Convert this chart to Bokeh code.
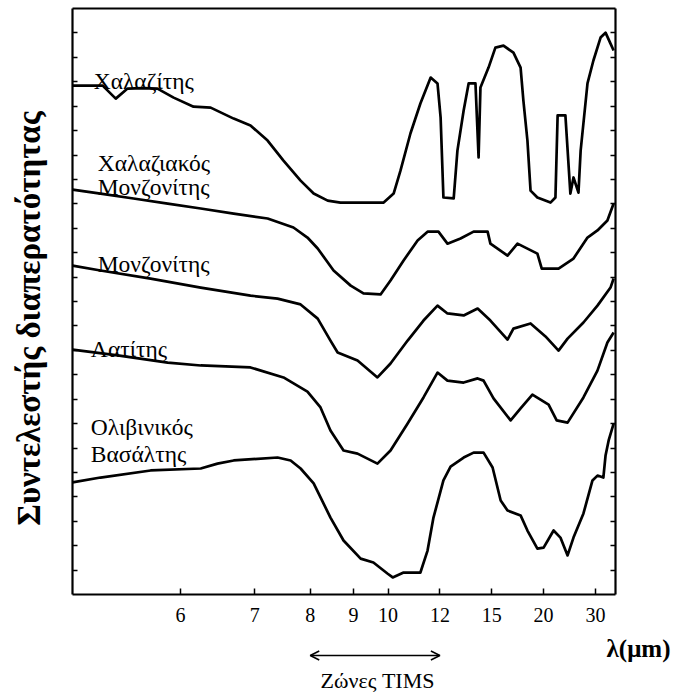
import math
from bokeh.plotting import figure
from bokeh.models import (Range1d, FixedTicker, LinearAxis, CustomJSTickFormatter, Arrow, OpenHead)
from bokeh.core.properties import value
from bokeh.embed import file_html
from bokeh.resources import INLINE

# ---------------- data (wavenumber in cm^-1, transmittance in arbitrary offset units) -------------
TICK_WAVELENGTHS_UM = [6, 7, 8, 9, 10, 12, 15, 20, 30]

quartzite_nu = [2014, 1917, 1875, 1837, 1786, 1741, 1689, 1625, 1570, 1496, 1442, 1387, 1336, 1281,
                1239, 1194, 1153, 1014, 982, 960, 928, 896, 863, 841, 831, 822, 789, 777, 757, 741,
                719, 709, 703, 677, 655, 629, 597, 574, 565, 552, 542, 520, 478, 462, 455, 430, 414,
                404, 388, 381, 359, 340, 317, 301, 285, 275]
quartzite_t = [20.84, 20.84, 20.31, 20.72, 20.74, 20.72, 20.35, 19.98, 19.94, 19.49, 19.21, 18.59,
               17.77, 16.95, 16.42, 16.13, 16.05, 16.05, 16.42, 17.36, 18.88, 20.11, 21.17, 20.93,
               19.53, 16.26, 16.22, 18.18, 19.82, 20.93, 20.93, 17.90, 20.76, 21.58, 22.40, 22.48,
               22.19, 21.58, 20.23, 18.59, 16.54, 16.26, 16.05, 16.26, 19.62, 19.62, 16.42, 17.08,
               16.46, 18.18, 20.93, 21.87, 22.81, 23.01, 22.56, 22.28]

qmonzonite_nu = [2014, 1924, 1818, 1708, 1602, 1496, 1387, 1304, 1259, 1226, 1175, 1120, 1079, 1024,
                 992, 950, 905, 873, 838, 809, 767, 725, 680, 671, 616, 584, 520, 506, 452, 404, 359,
                 327, 295, 275]
qmonzonite_t = [16.58, 16.42, 16.22, 16.01, 15.81, 15.60, 15.40, 15.03, 14.62, 14.17, 13.27, 12.65,
                12.33, 12.29, 12.86, 13.68, 14.50, 14.86, 14.86, 14.37, 14.58, 14.86, 14.86, 14.37,
                13.88, 14.37, 13.96, 13.35, 13.35, 13.76, 14.62, 14.91, 15.32, 16.01]

monzonite_nu = [2014, 1924, 1763, 1602, 1442, 1355, 1281, 1226, 1185, 1162, 1098, 1034, 992, 937, 886,
                841, 809, 757, 712, 671, 616, 597, 542, 494, 452, 423, 372, 327, 285, 275]
monzonite_t = [13.47, 13.27, 12.94, 12.57, 12.24, 12.12, 11.88, 11.30, 10.40, 9.91, 9.58, 8.89, 9.46,
               10.40, 11.22, 11.83, 11.51, 11.43, 11.71, 11.22, 10.44, 10.89, 11.10, 10.57, 9.99,
               10.48, 11.14, 11.83, 12.57, 12.94]

latite_nu = [2014, 1869, 1708, 1602, 1442, 1336, 1259, 1217, 1185, 1143, 1098, 1034, 992, 937, 886,
             841, 809, 757, 712, 693, 661, 606, 574, 536, 484, 458, 423, 372, 327, 295, 275]
latite_t = [10.03, 9.79, 9.50, 9.38, 9.30, 8.89, 8.31, 7.66, 6.72, 5.90, 5.77, 5.36, 5.90, 7.00, 8.07,
            9.09, 8.76, 8.68, 8.85, 8.76, 8.03, 7.13, 7.62, 8.19, 7.78, 7.13, 7.04, 8.07, 9.17, 10.32,
            10.73]

basalt_nu = [2014, 1924, 1763, 1602, 1548, 1496, 1355, 1313, 1281, 1239, 1185, 1143, 1088, 1047, 1002,
             985, 950, 896, 873, 854, 822, 799, 757, 725, 693, 664, 638, 616, 574, 552, 520, 500, 468,
             446, 423, 404, 372, 343, 327, 308, 301, 291, 275]
basalt_t = [4.59, 4.79, 5.08, 5.16, 5.36, 5.49, 5.61, 5.49, 5.16, 4.55, 3.15, 2.21, 1.47, 1.31, 0.86,
            0.70, 0.90, 0.90, 1.80, 3.15, 4.67, 5.24, 5.61, 5.81, 5.81, 5.20, 3.85, 3.44, 3.24, 2.62,
            1.88, 1.92, 2.62, 2.33, 1.60, 2.33, 3.32, 4.67, 4.87, 4.79, 5.69, 6.31, 7.00]

curve_labels = ["Χαλαζίτης", "Χαλαζιακός", "Μονζονίτης", "Μονζονίτης", "Λατίτης", "Ολιβινικός", "Βασάλτης"]
curve_label_nu = [1946, 1933, 1933, 1933, 1955, 1955, 1955]
curve_label_t = [21.05, 17.69, 16.67, 13.55, 10.07, 6.84, 5.77]

TIMS_BAND_UM = (8, 12)
Y_LABEL = "Συντελεστής διαπερατότητας"
X_LABEL = "λ(μm)"
TIMS_LABEL = "Ζώνες TIMS"

# ---------------- layout geometry (pixels) -------------
W, H = 676, 698
BOX_L, BOX_R, BOX_T, BOX_B = 72, 615, 8, 594        # plot box inside the canvas
NU_LEFT, NU_RIGHT = 2014, 269                       # box x extent (cm^-1, reversed)
T_MIN, T_MAX = 0, 24                                # box y extent
NU_PER_PX = (NU_LEFT - NU_RIGHT) / (BOX_R - BOX_L)
T_PER_PX = (T_MAX - T_MIN) / (BOX_B - BOX_T)


def sx(px):
    return NU_LEFT - (px - BOX_L) * NU_PER_PX


def sy(py):
    return T_MIN + (BOX_B - py) * T_PER_PX


SERIF = "Liberation Serif"

p = figure(width=W, height=H, output_backend="svg", toolbar_location=None,
           x_range=Range1d(sx(0), sx(W)), y_range=Range1d(sy(H), sy(0)),
           min_border=0, background_fill_color="white", border_fill_color="white")
p.title.visible = False
p.xgrid.visible = False
p.ygrid.visible = False
p.outline_line_color = None

# bottom axis (wavelength labels on a wavenumber-linear scale)
xa = p.xaxis[0]
xa.fixed_location = T_MIN
xa.bounds = (NU_RIGHT, NU_LEFT)
xa.ticker = FixedTicker(ticks=[10000.0 / l for l in TICK_WAVELENGTHS_UM])
xa.formatter = CustomJSTickFormatter(code="return String(Math.round(10000/tick));")
xa.major_tick_in = 6
xa.major_tick_out = 0
xa.minor_tick_line_color = None
xa.axis_line_width = 2.2
xa.major_tick_line_width = 1.5
xa.major_label_text_font = SERIF
xa.major_label_text_font_size = "20px"
xa.major_label_text_color = "black"
xa.major_label_standoff = 13

# top border
top = LinearAxis(fixed_location=T_MAX, bounds=(NU_RIGHT, NU_LEFT), ticker=FixedTicker(ticks=[]),
                 axis_line_width=2.2, minor_tick_line_color=None, major_tick_line_color=None,
                 major_label_text_font_size="1px")
p.add_layout(top, "above")

# left and right axes: inward ticks only
ya = p.yaxis[0]
right = LinearAxis()
p.add_layout(right, "right")
ya.fixed_location = NU_LEFT
right.fixed_location = NU_RIGHT
for ax in (ya, right):
    ax.bounds = (T_MIN, T_MAX)
    ax.ticker = FixedTicker(ticks=list(range(T_MIN + 1, T_MAX)))
    ax.formatter = CustomJSTickFormatter(code="return '';")
    ax.major_tick_in = 5
    ax.major_tick_out = 0
    ax.minor_tick_line_color = None
    ax.axis_line_width = 2.2
    ax.major_tick_line_width = 1.5
    ax.major_label_text_font_size = "1px"
    ax.major_label_standoff = 0

# curves
for nu, t in [(quartzite_nu, quartzite_t), (qmonzonite_nu, qmonzonite_t), (monzonite_nu, monzonite_t),
              (latite_nu, latite_t), (basalt_nu, basalt_t)]:
    p.line(nu, t, line_color="black", line_width=2.7, line_join="round")

# curve labels
p.text(x=curve_label_nu, y=curve_label_t, text=curve_labels, text_font=value(SERIF),
       text_font_size="23.5px", text_color="black", text_align="left", text_baseline="alphabetic")

# y label
p.text(x=[sx(28)], y=[sy(318)], text=[Y_LABEL], angle=math.pi / 2, text_font=value(SERIF),
       text_font_style="bold", text_font_size="33px", text_align="center", text_baseline="middle",
       text_color="black")
# x label
p.text(x=[sx(638)], y=[sy(648)], text=[X_LABEL], text_font=value(SERIF), text_font_style="bold",
       text_font_size="25px", text_align="center", text_baseline="middle", text_color="black")
# TIMS arrow + label
y_arrow = sy(655)
p.add_layout(Arrow(start=OpenHead(size=9, line_width=1.5), end=OpenHead(size=9, line_width=1.5),
                   x_start=10000.0 / TIMS_BAND_UM[0], y_start=y_arrow,
                   x_end=10000.0 / TIMS_BAND_UM[1], y_end=y_arrow, line_width=1.5))
p.text(x=[sx(377)], y=[sy(680)], text=[TIMS_LABEL], text_font=value(SERIF), text_font_size="22px",
       text_align="center", text_baseline="middle", text_color="black")

open("out.html", "w").write(file_html(p, INLINE))
